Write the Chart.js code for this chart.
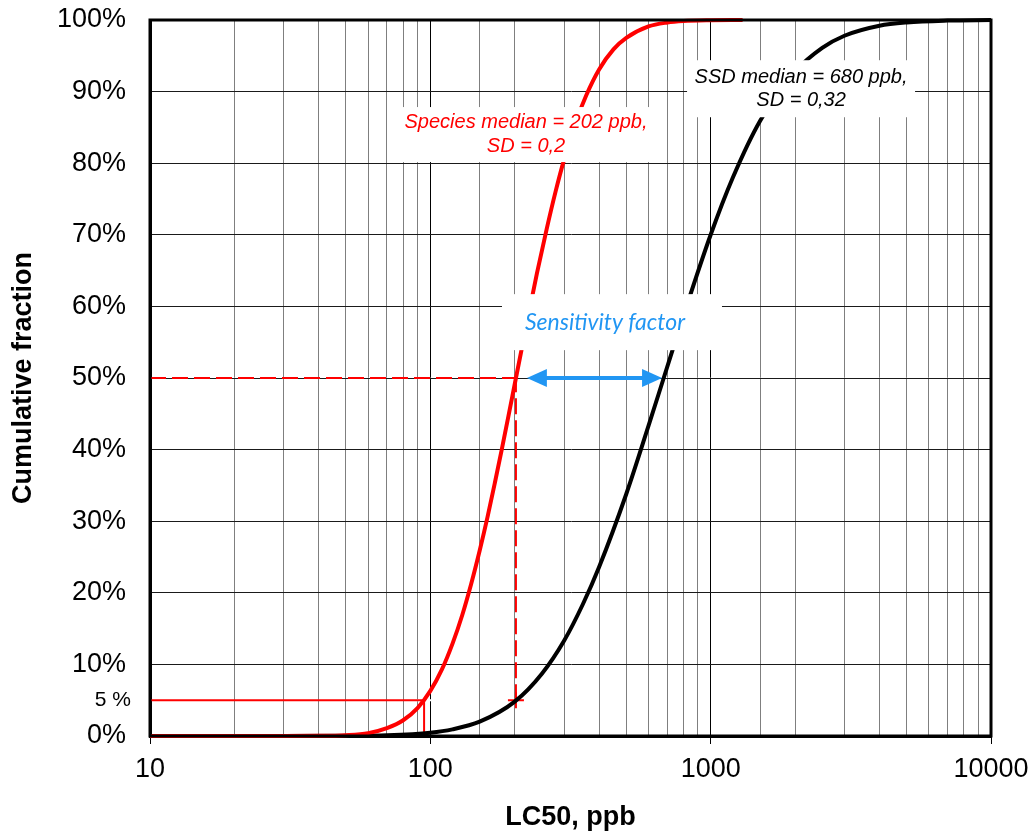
<!DOCTYPE html>
<html>
<head>
<meta charset="utf-8">
<script src="https://cdn.jsdelivr.net/npm/chart.js@4"></script>
<style>
  html,body{margin:0;padding:0;background:#fff;}
  #wrap{width:1034px;height:838px;}
</style>
</head>
<body>
<div id="wrap"><canvas id="c" width="1034" height="838"></canvas></div>
<script>
// ---- data ----
const speciesX   = [10, 20, 30, 40, 50, 60, 70, 80, 90, 100, 110, 120, 130, 140, 150, 160, 170, 180, 190, 202, 220, 240, 260, 280, 300, 330, 360, 400, 450, 500, 600, 700, 800, 1000, 1300];
const speciesCum = [0, 0, 0, 0.02, 0.12, 0.4, 1.1, 2.2, 3.9, 6.3, 9.3, 12.9, 16.9, 21.3, 25.9, 30.6, 35.4, 40.1, 44.7, 50, 57.3, 64.6, 70.8, 76.1, 80.5, 85.7, 89.5, 93.1, 95.9, 97.5, 99.1, 99.65, 99.86, 99.97, 100];
const ssdX   = [10, 30, 50, 70, 100, 120, 150, 200, 250, 300, 350, 400, 500, 600, 680, 800, 1000, 1200, 1500, 2000, 2500, 3000, 4000, 5000, 7000, 10000];
const ssdCum = [0, 0, 0.02, 0.1, 0.46, 0.93, 2.0, 4.8, 8.7, 13.3, 18.4, 23.6, 33.8, 43.3, 50, 58.7, 70.0, 78.0, 85.9, 92.8, 96.1, 97.8, 99.2, 99.66, 99.92, 100];
const speciesMedian = 202;
const species5th = 95;
const markLevels = [5, 50];          // percent levels of the guide lines
const xTickLabels = [10, 100, 1000, 10000];
const yTickValues = [0, 10, 20, 30, 40, 50, 60, 70, 80, 90, 100];
const arrowFromTo = [221, 671];       // sensitivity factor arrow (ppb) at 50 %

const FONT = '"Liberation Sans", Arial, Helvetica, sans-serif';
const isMajor = v => xTickLabels.includes(Math.round(v));

const pts = (xs, ys) => xs.map((x, i) => ({x, y: ys[i]}));

const annotations = [
  {x: 219.4, y: 84.0, w: 267, h: 55, lines: ['Species median = 202 ppb,', 'SD = 0,2'], color: '#FF0000',
   font: 'italic 20px ' + FONT, dy: 12},
  {x: 2101, y: 90.4, w: 228, h: 57, lines: ['SSD median = 680 ppb,', 'SD = 0,32'], color: '#000000',
   font: 'italic 20px ' + FONT, dy: 11.5},
  {x: 444.6, y: 57.8, w: 220, h: 56, lines: ['Sensitivity factor'], color: '#2196F3',
   font: 'italic 23px Lato, "Open Sans", sans-serif', dy: 0, textDx: -7}
];

const overlayPlugin = {
  id: 'overlay',
  afterDatasetsDraw(chart) {
    const {ctx, chartArea: a, scales: {x, y}} = chart;
    ctx.save();
    // text boxes
    annotations.forEach(an => {
      const cx = x.getPixelForValue(an.x), cy = y.getPixelForValue(an.y);
      ctx.fillStyle = '#fff';
      ctx.fillRect(cx - an.w / 2, cy - an.h / 2, an.w, an.h);
      ctx.fillStyle = an.color;
      ctx.font = an.font;
      ctx.textAlign = 'center';
      ctx.textBaseline = 'middle';
      const n = an.lines.length;
      an.lines.forEach((t, i) => {
        const off = n === 1 ? 0 : (i === 0 ? -an.dy : an.dy);
        ctx.fillText(t, cx + (an.textDx || 0), cy + off);
      });
    });
    // arrow
    const ay = y.getPixelForValue(50);
    const x1 = x.getPixelForValue(arrowFromTo[0]), x2 = x.getPixelForValue(arrowFromTo[1]);
    const hl = 20, hw = 9;
    ctx.strokeStyle = '#2196F3'; ctx.fillStyle = '#2196F3';
    ctx.lineWidth = 4;
    ctx.beginPath(); ctx.moveTo(x1 + hl - 2, ay); ctx.lineTo(x2 - hl + 2, ay); ctx.stroke();
    ctx.beginPath(); ctx.moveTo(x1, ay); ctx.lineTo(x1 + hl, ay - hw); ctx.lineTo(x1 + hl, ay + hw); ctx.closePath(); ctx.fill();
    ctx.beginPath(); ctx.moveTo(x2, ay); ctx.lineTo(x2 - hl, ay - hw); ctx.lineTo(x2 - hl, ay + hw); ctx.closePath(); ctx.fill();
    // frame
    ctx.strokeStyle = '#000'; ctx.lineWidth = 3;
    ctx.strokeRect(a.left, a.top, a.right - a.left, a.bottom - a.top);
    // "5 %" label
    ctx.fillStyle = '#000';
    ctx.font = '21px ' + FONT;
    ctx.textAlign = 'right'; ctx.textBaseline = 'middle';
    ctx.fillText('5 %', a.left - 19, y.getPixelForValue(markLevels[0]));
    ctx.restore();
  }
};

new Chart(document.getElementById('c'), {
  type: 'line',
  data: {
    datasets: [
      {label: 'Species', data: pts(speciesX, speciesCum), borderColor: '#FF0000', borderWidth: 4,
       pointRadius: 0, cubicInterpolationMode: 'monotone', clip: false},
      {label: 'SSD', data: pts(ssdX, ssdCum), borderColor: '#000000', borderWidth: 4,
       pointRadius: 0, cubicInterpolationMode: 'monotone', clip: false},
      {label: '50% h', data: [{x: 10, y: markLevels[1]}, {x: speciesMedian, y: markLevels[1]}],
       borderColor: '#FF0000', borderWidth: 2, borderDash: [16, 6], pointRadius: 0, tension: 0},
      {label: 'median v', data: [{x: speciesMedian, y: markLevels[0]}, {x: speciesMedian, y: markLevels[1]}],
       borderColor: '#FF0000', borderWidth: 2, borderDash: [16, 6], pointRadius: 0, tension: 0},
      {label: '5% h', data: [{x: 10, y: markLevels[0]}, {x: species5th, y: markLevels[0]}],
       borderColor: '#FF0000', borderWidth: 2, pointRadius: 0, tension: 0},
      {label: '5% v', data: [{x: species5th, y: 0}, {x: species5th, y: markLevels[0]}],
       borderColor: '#FF0000', borderWidth: 2, pointRadius: 0, tension: 0},
      {label: 'marks', data: [{x: species5th, y: markLevels[0]}, {x: speciesMedian, y: markLevels[0]}],
       showLine: false, pointStyle: 'cross', pointRadius: 8, pointBorderWidth: 2,
       pointBorderColor: ['#FFFFFF', '#FF0000'], pointBackgroundColor: '#FF0000'}
    ]
  },
  options: {
    responsive: false,
    animation: false,
    layout: {padding: {top: 20, right: 43, left: 0, bottom: 0}},
    plugins: {legend: {display: false}, tooltip: {enabled: false}},
    scales: {
      x: {
        type: 'logarithmic', min: 10, max: 10000,
        afterFit: s => { s.height = 102; s.paddingLeft = 0; s.paddingRight = 0; },
        border: {display: true, color: '#000', width: 3},
        grid: {
          color: c => (c.tick && isMajor(c.tick.value)) ? '#000000' : '#7f7f7f',
          lineWidth: 1, drawTicks: true, tickLength: 8,
          tickColor: c => (c.tick && isMajor(c.tick.value)) ? '#000000' : 'rgba(0,0,0,0)'
        },
        ticks: {
          autoSkip: false, maxRotation: 0, padding: 9, color: '#000',
          font: {family: FONT, size: 27},
          callback: v => isMajor(v) ? String(Math.round(v)) : ''
        },
        title: {display: true, text: 'LC50, ppb', color: '#000',
                font: {family: FONT, size: 27, weight: 'bold'}, padding: {top: 0, bottom: 4}}
      },
      y: {
        min: 0, max: 100,
        afterFit: s => { s.width = 150; s.paddingTop = 0; s.paddingBottom = 0; },
        afterBuildTicks: s => { s.ticks = yTickValues.map(v => ({value: v})); },
        border: {display: true, color: '#000', width: 3},
        grid: {color: '#1a1a1a', lineWidth: 1, drawTicks: false},
        ticks: {padding: 24, color: '#000', font: {family: FONT, size: 27}, callback: v => v + '%'},
        title: {display: true, text: 'Cumulative fraction', color: '#000',
                font: {family: FONT, size: 27, weight: 'bold'}, padding: {top: 7, bottom: 0}}
      }
    }
  },
  plugins: [overlayPlugin]
});
</script>
</body>
</html>
